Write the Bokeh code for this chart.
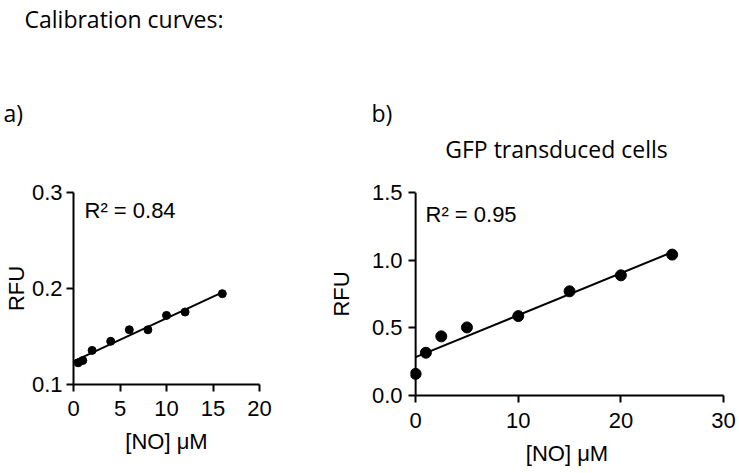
import numpy as np
from bokeh.plotting import figure
from bokeh.layouts import row, column
from bokeh.models import Range1d, FixedTicker, NumeralTickFormatter, Label, Span
from bokeh.embed import file_html
from bokeh.resources import INLINE

# ---- data ----
no_a = [0.5, 1, 2, 4, 6, 8, 10, 12, 16]
rfu_a = [0.1226, 0.125, 0.1355, 0.145, 0.157, 0.157, 0.172, 0.1755, 0.1946]
no_b = [0, 1, 2.5, 5, 10, 15, 20, 25]
rfu_b = [0.16, 0.316, 0.437, 0.503, 0.587, 0.77, 0.888, 1.041]
r2_a = "R² = 0.84"
r2_b = "R² = 0.95"
xticks_a = [0, 5, 10, 15, 20]
yticks_a = [0.1, 0.2, 0.3]
xticks_b = [0, 10, 20, 30]
yticks_b = [0.0, 0.5, 1.0, 1.5]

AX_FONT = "Liberation Sans"
TI_FONT = "Open Sans"

HEAD_H = 165


def style(p, xt, yt):
    p.outline_line_color = None
    p.xgrid.visible = False
    p.ygrid.visible = False
    for ax in (p.xaxis[0], p.yaxis[0]):
        ax.axis_line_width = 2
        ax.major_tick_line_width = 2
        ax.minor_tick_line_color = None
        ax.major_tick_out = 7
        ax.major_tick_in = 0
        ax.major_label_text_font = AX_FONT
        ax.major_label_text_font_size = "22px"
        ax.major_label_text_color = "black"
        ax.axis_label_text_font = AX_FONT
        ax.axis_label_text_font_size = "22px"
        ax.axis_label_text_font_style = "normal"
        ax.axis_label_text_color = "black"
        ax.axis_line_color = "black"
        ax.major_tick_line_color = "black"
    p.xaxis[0].ticker = FixedTicker(ticks=xt)
    p.yaxis[0].ticker = FixedTicker(ticks=yt)
    p.yaxis[0].formatter = NumeralTickFormatter(format="0.0")
    p.xaxis[0].axis_label = "[NO] μM"
    p.yaxis[0].axis_label = "RFU"


def fit_line(p, x, y):
    x = np.asarray(x, dtype=float)
    y = np.asarray(y, dtype=float)
    slope, icpt = np.polyfit(x, y, 1)
    xs = np.array([0.0, x.max()])
    p.line(xs, icpt + slope * xs, line_color="black", line_width=2)


def title_label(x, y, text, align="left"):
    return Label(x=x, y=y, x_units="canvas", y_units="canvas", text=text,
                 text_font=TI_FONT, text_font_size="23px", text_baseline="alphabetic",
                 text_align=align, text_color="black")


# ---- header with panel titles ----
head = figure(width=723, height=HEAD_H, output_backend="svg", toolbar_location=None,
              x_range=Range1d(0, 723), y_range=Range1d(0, HEAD_H),
              x_axis_type=None, y_axis_type=None,
              min_border_left=0, min_border_right=0, min_border_top=0, min_border_bottom=0)
head.outline_line_color = None
head.xgrid.visible = False
head.ygrid.visible = False
head.add_layout(title_label(24, 18, "Calibration curves:"))
head.add_layout(title_label(3, 112, "a)"))
head.add_layout(title_label(371, 112, "b)"))
head.add_layout(title_label(556, 148, "GFP transduced cells", align="center"))

# ---- panel a ----
fa = figure(frame_width=186, frame_height=192, output_backend="svg", toolbar_location=None,
            x_range=Range1d(0, 20), y_range=Range1d(0.1, 0.3),
            min_border_left=65, min_border_right=66, min_border_top=26, min_border_bottom=40)
style(fa, xticks_a, yticks_a)
fa.yaxis[0].major_label_standoff = 4
fa.yaxis[0].axis_label_standoff = 0
fa.xaxis[0].major_label_standoff = 9
fa.xaxis[0].axis_label_standoff = 10
fit_line(fa, no_a, rfu_a)
fa.scatter(no_a, rfu_a, size=8, fill_color="black", line_color="black")
fa.add_layout(Label(x=84, y=45, x_units="canvas", y_units="canvas", text=r2_a,
                    text_font=AX_FONT, text_font_size="22px", text_baseline="alphabetic",
                    text_color="black"))

# ---- panel b ----
fb = figure(frame_width=313, frame_height=203, output_backend="svg", toolbar_location=None,
            x_range=Range1d(-0.5, 30), y_range=Range1d(0.0, 1.5),
            min_border_left=80, min_border_right=13, min_border_top=27, min_border_bottom=40)
style(fb, xticks_b, yticks_b)
fb.yaxis[0].axis_line_color = None
fb.yaxis[0].major_tick_in = 5
fb.yaxis[0].major_tick_out = 2
fb.yaxis[0].major_label_standoff = 6
fb.yaxis[0].axis_label_standoff = 15
fb.xaxis[0].bounds = (0, 30)
fb.xaxis[0].major_label_standoff = 10
fb.xaxis[0].axis_label_standoff = 10
fb.add_layout(Span(location=0, dimension="height", line_color="black", line_width=2))
fit_line(fb, no_b, rfu_b)
fb.scatter(no_b, rfu_b, size=11, fill_color="black", line_color="black")
fb.add_layout(Label(x=100, y=49, x_units="canvas", y_units="canvas", text=r2_b,
                    text_font=AX_FONT, text_font_size="22px", text_baseline="alphabetic",
                    text_color="black"))

layout = column(head, row(fa, fb), spacing=0)
open("out.html", "w").write(file_html(layout, INLINE))
